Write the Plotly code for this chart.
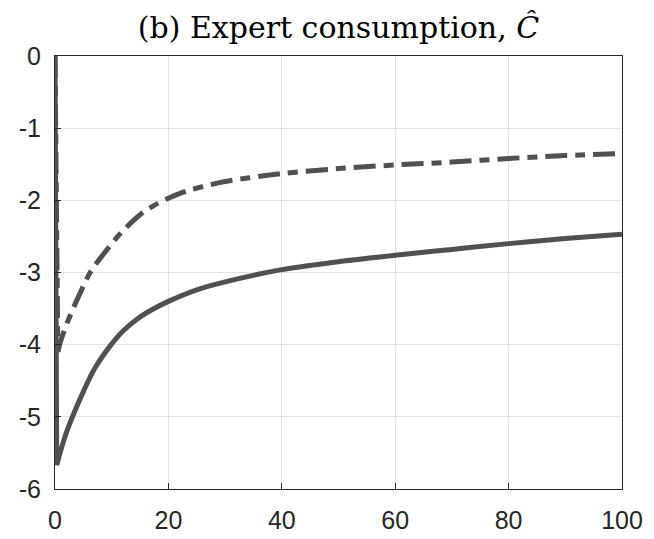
import plotly.graph_objects as go

# Data
# solid curve (after the initial drop at x=0)
x_solid = [0.3, 1, 2, 3.5, 5, 7, 9.7, 12, 14.4, 17, 20, 25, 30, 40, 50, 60, 70, 80, 90, 100]
y_solid = [-5.67, -5.47, -5.22, -4.92, -4.65, -4.33, -4.02, -3.81, -3.65, -3.52, -3.40,
           -3.24, -3.13, -2.96, -2.85, -2.76, -2.68, -2.60, -2.53, -2.47]

# dash-dot curve (after the initial drop at x=0)
x_dash = [0.5, 1, 2.6, 5, 6.2, 9, 12, 15, 17.5, 20, 22.5, 25, 30, 35, 40, 50, 60, 70, 80, 90, 100]
y_dash = [-4.10, -3.95, -3.61, -3.19, -3.00, -2.70, -2.42, -2.20, -2.07, -1.97, -1.89,
          -1.83, -1.74, -1.68, -1.63, -1.56, -1.51, -1.47, -1.42, -1.38, -1.35]

# initial value at x = 0 for both series
x_start = 0
y_start = 0

x_ticks = [0, 20, 40, 60, 80, 100]
y_ticks = [0, -1, -2, -3, -4, -5, -6]
y_tick_labels = ["0", "-1", "-2", "-3", "-4", "-5", "-6"]

title_text = "(b) Expert consumption, <i>Ĉ</i>"

line_color = "#505050"
axis_color = "#262626"
grid_color = "#e3e3e3"
dash_pattern = "22px,8px,10px,8px"

fig = go.Figure()
# dash-dot series: initial drop + curve
fig.add_trace(go.Scatter(x=[x_start, x_dash[0]], y=[y_start, y_dash[0]], mode="lines",
                         line=dict(color=line_color, width=5, dash=dash_pattern),
                         showlegend=False, hoverinfo="skip"))
fig.add_trace(go.Scatter(x=x_dash, y=y_dash, mode="lines", line_shape="spline",
                         line=dict(color=line_color, width=5, dash=dash_pattern, smoothing=1),
                         showlegend=False))
# solid series: initial drop + curve
fig.add_trace(go.Scatter(x=[x_start, x_solid[0]], y=[y_start, y_solid[0]], mode="lines",
                         line=dict(color=line_color, width=5),
                         showlegend=False, hoverinfo="skip"))
fig.add_trace(go.Scatter(x=x_solid, y=y_solid, mode="lines", line_shape="spline",
                         line=dict(color=line_color, width=5, smoothing=1),
                         showlegend=False))

tick_font = dict(family="Liberation Sans", size=25, color=axis_color)

fig.update_layout(
    width=654, height=539,
    margin=dict(l=55, r=32, t=56, b=50, autoexpand=False),
    paper_bgcolor="white", plot_bgcolor="white",
    title=dict(text=title_text, x=0.5, xref="paper", xanchor="center",
               y=1 - 27 / 539, yref="container", yanchor="middle",
               font=dict(family="DejaVu Serif", size=30, color="black")),
    xaxis=dict(range=[0, 100], tickvals=x_ticks, ticks="inside", ticklen=6,
               tickcolor=axis_color, showline=True, mirror=True, linecolor=axis_color,
               linewidth=1.2, showgrid=True, gridcolor=grid_color, gridwidth=1,
               zeroline=False, ticklabelstandoff=9, tickfont=tick_font, automargin=False),
    yaxis=dict(range=[-6, 0], tickvals=y_ticks, ticktext=y_tick_labels, ticks="inside",
               ticklen=6, tickcolor=axis_color, showline=True, mirror=True,
               linecolor=axis_color, linewidth=1.2, showgrid=True, gridcolor=grid_color,
               gridwidth=1, zeroline=False, ticklabelstandoff=8, tickfont=tick_font,
               automargin=False),
)

fig.write_html("out.html")
